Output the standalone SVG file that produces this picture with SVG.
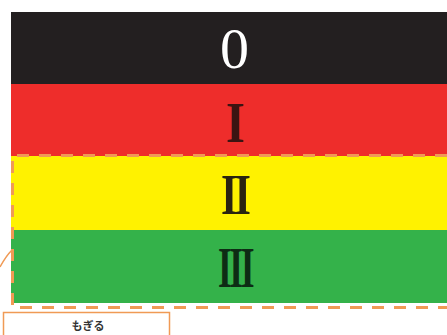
<svg xmlns="http://www.w3.org/2000/svg" width="447" height="335" viewBox="0 0 447 335">
<style>
.num{font-family:"Liberation Serif","Times New Roman",serif;font-size:58px;text-anchor:middle}
.b{font-weight:bold}
.dash{fill:none;stroke:#f09a55;stroke-width:3;stroke-dasharray:12 10}
.lbl{font-family:"Noto Sans CJK JP","Noto Sans",sans-serif;font-size:11px;font-weight:bold;fill:#333;text-anchor:middle}
</style>
<rect width="447" height="335" fill="#ffffff"/>
<g id="band0"><rect x="11" y="12" width="436" height="72" fill="#231f20"/><text class="num" x="234.5" y="68" fill="#ffffff" font-size="56">0</text></g>
<g id="band1"><rect x="11" y="84" width="436" height="72" fill="#ee2d2b"/><text class="num b" x="235.5" y="142" fill="#3b1412" textLength="19" lengthAdjust="spacingAndGlyphs">I</text></g>
<g id="band2"><rect x="11" y="156" width="436" height="74" fill="#fff200"/><text class="num b" x="234.5" y="214" fill="#2a2310" letter-spacing="-4" textLength="27" lengthAdjust="spacingAndGlyphs">II</text></g>
<g id="band3"><rect x="11" y="230" width="436" height="73" fill="#34b24a"/><text class="num b" x="235" y="287" fill="#0d2c14" letter-spacing="-4" textLength="34" lengthAdjust="spacingAndGlyphs">III</text></g>
<g id="connectors">
<path class="dash" d="M447,155.5 H12.5 V307.5 H447"/>
<path d="M0,267 Q6,256 12,250" fill="none" stroke="#f09a55" stroke-width="1.5"/>
</g>
<g id="label"><rect x="3.5" y="312.5" width="166" height="30" fill="#ffffff" stroke="#f09a55" stroke-width="1.5"/><text class="lbl" x="88" y="330">もぎる</text></g>
</svg>
